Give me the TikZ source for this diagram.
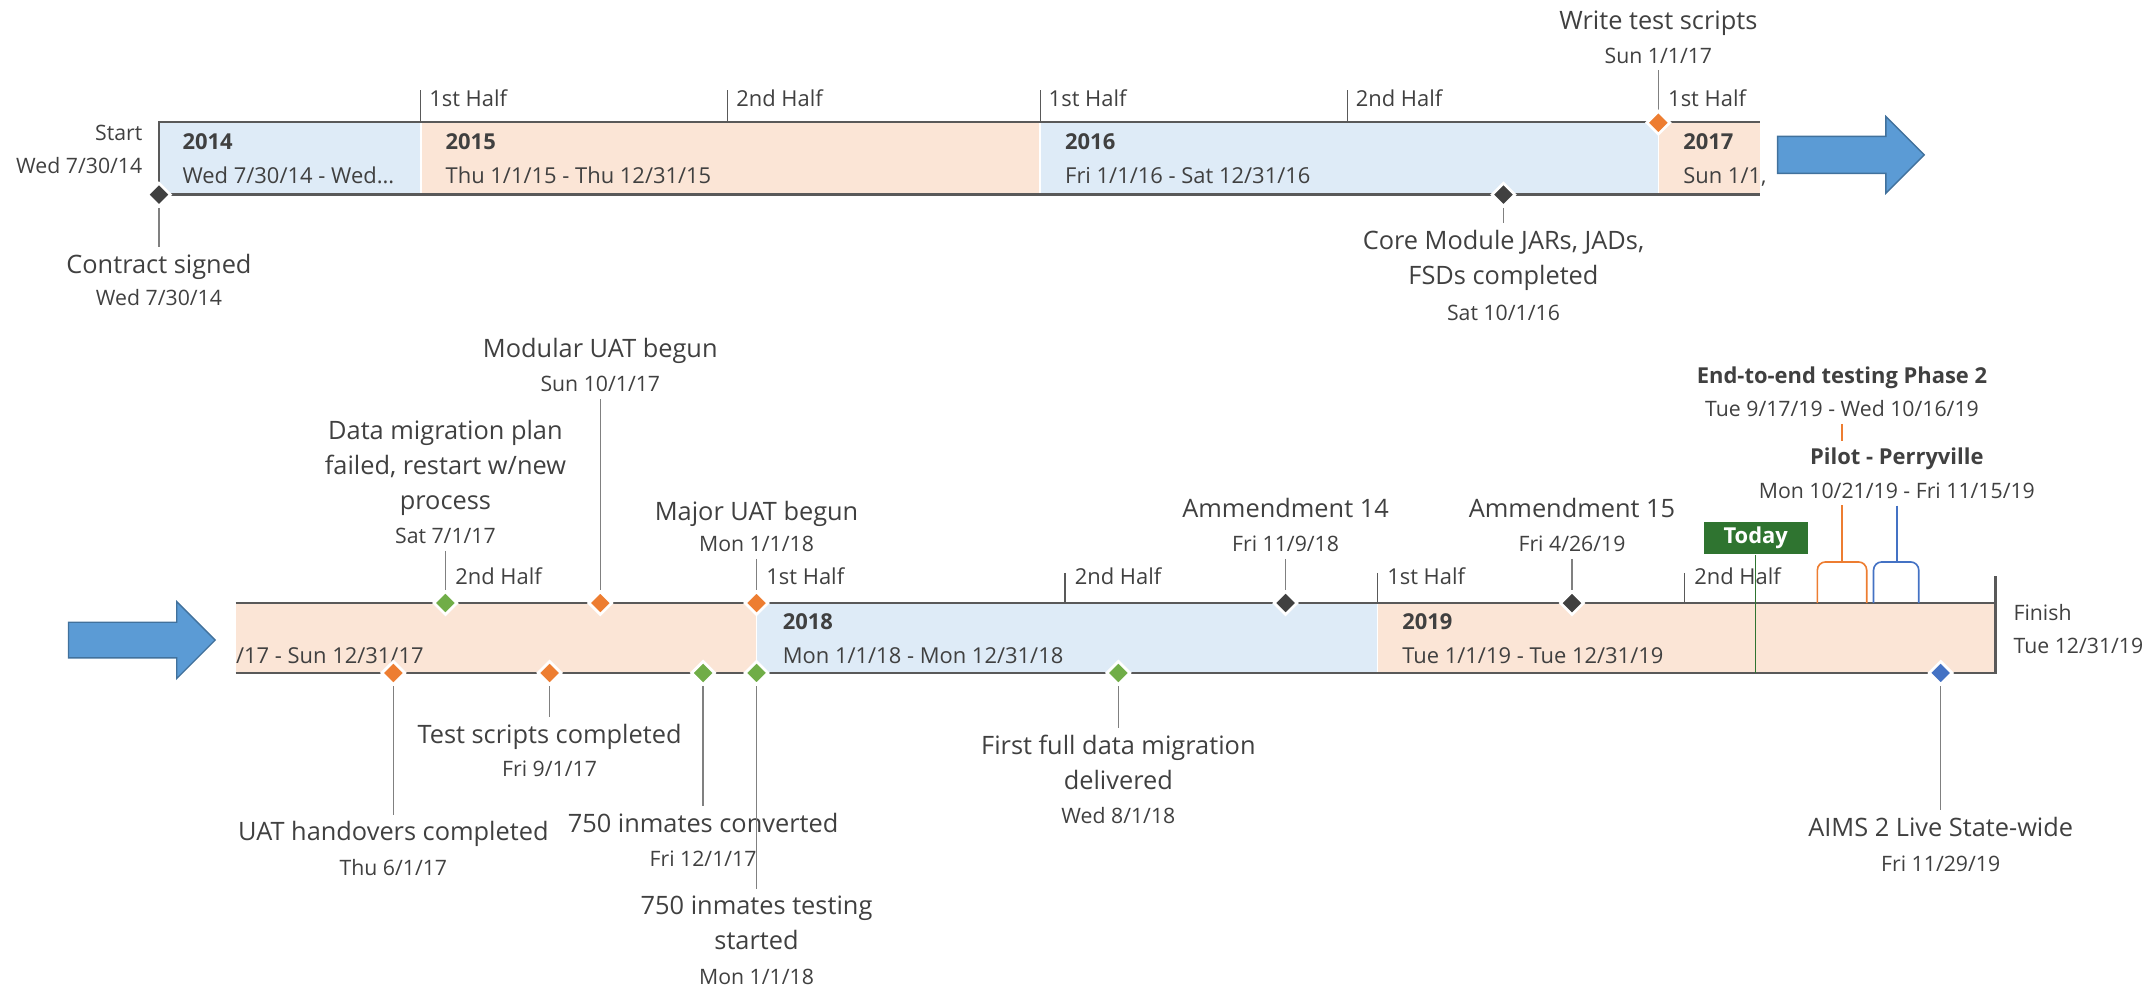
\documentclass[tikz,border=0pt]{standalone}
\usepackage{fontspec}
\setmainfont{Open Sans}
\usetikzlibrary{shapes.geometric}
\definecolor{txtgray}{HTML}{404040}
\definecolor{bluecell}{HTML}{DEEBF7}
\definecolor{peachcell}{HTML}{FBE5D6}
\definecolor{bargray}{HTML}{595959}
\definecolor{leadgray}{HTML}{808080}
\definecolor{msorange}{HTML}{ED7D31}
\definecolor{msgreen}{HTML}{70AD47}
\definecolor{msdark}{HTML}{404040}
\definecolor{msblue}{HTML}{4472C4}
\definecolor{todaygreen}{HTML}{2F7430}
\definecolor{arrowfill}{HTML}{5B9BD5}
\definecolor{arrowline}{HTML}{41719C}
\newcommand\tlTitle{\fontsize{18.5}{25.5}\selectfont}
\newcommand\tlDate{\fontsize{15.5}{20}\selectfont}
\newcommand\tlHalf{\fontsize{16}{20}\selectfont}
\newcommand\tlYear{\fontsize{16}{20}\selectfont\bfseries}
\begin{document}
\begin{tikzpicture}[x=1pt,y=-1pt,
  ttl/.style={text=txtgray,font=\tlTitle,inner xsep=1pt,inner ysep=5pt,align=center},
  dte/.style={text=txtgray,font=\tlDate,inner xsep=1pt,inner ysep=5pt},
  hlf/.style={text=txtgray,font=\tlHalf,inner sep=0pt,anchor=base west},
  yr/.style={text=txtgray,font=\tlYear,inner sep=0pt,anchor=base west},
  cellt/.style={text=txtgray,font=\tlHalf,inner sep=0pt,anchor=base west},
  bld/.style={text=txtgray,font=\tlYear,inner xsep=1pt,inner ysep=5pt},
  ms/.style={diamond,aspect=1,minimum size=17.5pt,inner sep=0pt,draw=white,line width=2pt},
  leader/.style={draw=leadgray,line width=0.9pt},
  bline/.style={draw=bargray,line width=1.8pt},
  tck/.style={draw=bargray,line width=1pt},
  sep/.style={draw=white,line width=1.2pt},
  bigarrow/.style={fill=arrowfill,draw=arrowline,line width=1pt}
]
\useasboundingbox (0,0) rectangle (1568,721);

% ---------- top timeline ----------
\fill[bluecell] (116,89) rectangle (307,142);
\fill[peachcell] (307,89) rectangle (759,142);
\fill[bluecell] (759,89) rectangle (1210,142);
\fill[peachcell] (1210,89) rectangle (1284,142);
\foreach \x in {307,759,1210} \draw[sep] (\x,89) -- (\x,142);
\draw[bline] (116,142) -- (116,89) -- (1284,89);
\draw[bline] (116,142) -- (1284,142);
\foreach \x in {307,531,759,983,1210} \draw[tck] (\x,66) -- (\x,89);

\node[hlf] (th1) at (313,77.7) {1st Half};
\node[hlf] (th2) at (537,77.7) {2nd Half};
\node[hlf] (th3) at (765,77.7) {1st Half};
\node[hlf] (th4) at (989,77.7) {2nd Half};
\node[hlf] (th5) at (1217,77.7) {1st Half};

\node[yr] (y14) at (133,109) {2014};
\node[cellt] (c14) at (133,134) {Wed 7/30/14 - Wed...};
\node[yr] (y15) at (325,109) {2015};
\node[cellt] (c15) at (325,134) {Thu 1/1/15 - Thu 12/31/15};
\node[yr] (y16) at (777,109) {2016};
\node[cellt] (c16) at (777,134) {Fri 1/1/16 - Sat 12/31/16};
\node[yr] (y17) at (1228,109) {2017};
\node[cellt] (c17) at (1228,134) {Sun 1/1,};

\node[dte,anchor=base east,inner sep=0pt] (start) at (104,102.5) {Start};
\node[dte,anchor=base east,inner sep=0pt] (startd) at (104,126.5) {Wed 7/30/14};

\node[ttl,anchor=base] (m1t) at (116,199.5) {Contract signed};
\node[dte,anchor=base] (m1d) at (116,223) {Wed 7/30/14};
\node[ttl,anchor=north] (m2t) at (1097,162.5) {Core Module JARs, JADs,\\FSDs completed};
\node[dte,anchor=base] (m2d) at (1097,233.5) {Sat 10/1/16};
\node[ttl,anchor=base] (m3t) at (1210,21.2) {Write test scripts};
\node[dte,anchor=base] (m3d) at (1210,46) {Sun 1/1/17};

\node[ms,fill=msdark] (m1) at (116,142) {};
\node[ms,fill=msdark] (m2) at (1097,142) {};
\node[ms,fill=msorange] (m3) at (1210,89.5) {};
\draw[leader] (m1.south) -- (m1t.north);
\draw[leader] (m2.south) -- (m2t.north);
\draw[leader] (m3d.south) -- (m3.north);

\draw[bigarrow] (1297,99.5) -- (1376,99.5) -- (1376,85) -- (1404,113) -- (1376,141) -- (1376,126.5) -- (1297,126.5) -- cycle;

% ---------- bottom timeline ----------
\draw[bigarrow] (50,454) -- (129,454) -- (129,439) -- (157,467) -- (129,495) -- (129,480) -- (50,480) -- cycle;

\fill[peachcell] (172,440) rectangle (552,491);
\fill[bluecell] (552,440) rectangle (1005,491);
\fill[peachcell] (1005,440) rectangle (1456,491);
\foreach \x in {552,1005} \draw[sep] (\x,440) -- (\x,491);
\draw[bline] (172,440) -- (1456,440);
\draw[bline] (172,491) -- (1456,491) -- (1456,420);
\foreach \x in {325,552,777,1005,1229} \draw[tck] (\x,418) -- (\x,440);

\node[hlf] (bh1) at (332,426.7) {2nd Half};
\node[hlf] (bh2) at (559,426.7) {1st Half};
\node[hlf] (bh3) at (784,426.7) {2nd Half};
\node[hlf] (bh4) at (1012,426.7) {1st Half};
\node[hlf] (bh5) at (1236,426.7) {2nd Half};

\node[cellt] (c17b) at (172,484) {/17 - Sun 12/31/17};
\node[yr] (y18) at (571,459) {2018};
\node[cellt] (c18) at (571,484) {Mon 1/1/18 - Mon 12/31/18};
\node[yr] (y19) at (1023,459) {2019};
\node[cellt] (c19) at (1023,484) {Tue 1/1/19 - Tue 12/31/19};

\node[dte,anchor=base west,inner sep=0pt] (fin) at (1469,452.5) {Finish};
\node[dte,anchor=base west,inner sep=0pt] (find) at (1469,476.5) {Tue 12/31/19};

% labels above
\node[ttl,anchor=north] (b1t) at (325,301.5) {Data migration plan\\failed, restart w/new\\process};
\node[dte,anchor=base] (b1d) at (325,396.5) {Sat 7/1/17};
\node[ttl,anchor=base] (b2t) at (438,260.6) {Modular UAT begun};
\node[dte,anchor=base] (b2d) at (438,286) {Sun 10/1/17};
\node[ttl,anchor=base] (b3t) at (552,379.6) {Major UAT begun};
\node[dte,anchor=base] (b3d) at (552,402.5) {Mon 1/1/18};
\node[ttl,anchor=base] (b4t) at (938,377.6) {Ammendment 14};
\node[dte,anchor=base] (b4d) at (938,402.5) {Fri 11/9/18};
\node[ttl,anchor=base] (b5t) at (1147,377.6) {Ammendment 15};
\node[dte,anchor=base] (b5d) at (1147,402.5) {Fri 4/26/19};

% labels below
\node[ttl,anchor=base] (b6t) at (287,613.6) {UAT handovers completed};
\node[dte,anchor=base] (b6d) at (287,638.5) {Thu 6/1/17};
\node[ttl,anchor=base] (b7t) at (401,542.6) {Test scripts completed};
\node[dte,anchor=base] (b7d) at (401,566.5) {Fri 9/1/17};
\node[ttl,anchor=base] (b8t) at (513,607.6) {750 inmates converted};
\node[dte,anchor=base] (b8d) at (513,632.5) {Fri 12/1/17};
\node[ttl,anchor=north] (b9t) at (552,648.5) {750 inmates testing\\started};
\node[dte,anchor=base] (b9d) at (552,718) {Mon 1/1/18};
\node[ttl,anchor=north] (b10t) at (816,531.5) {First full data migration\\delivered};
\node[dte,anchor=base] (b10d) at (816,601) {Wed 8/1/18};
\node[ttl,anchor=base] (b11t) at (1416,610.6) {AIMS 2 Live State-wide};
\node[dte,anchor=base] (b11d) at (1416,636) {Fri 11/29/19};

% range items
\node[bld,anchor=base] (e2e) at (1344,279.7) {End-to-end testing Phase 2};
\node[dte,anchor=base] (e2ed) at (1344,304) {Tue 9/17/19 - Wed 10/16/19};
\coordinate (obr) at (1344,410);
\coordinate (bbr) at (1384,410);
\draw[msorange,line width=1pt] (e2ed.south) -- (obr);
\node[bld,anchor=base,fill=white] (pil) at (1384,338.7) {Pilot - Perryville};
\node[dte,anchor=base,fill=white] (pild) at (1384,363.5) {Mon 10/21/19 - Fri 11/15/19};
\draw[msblue,line width=1pt] (pild.south) -- (bbr);
\draw[msorange,line width=1.2pt,rounded corners=6pt] (1326,440) -- (1326,410) -- (1362,410) -- (1362,440);
\draw[msblue,line width=1.2pt,rounded corners=6pt] (1367,440) -- (1367,410) -- (1400,410) -- (1400,440);

% today
\node[fill=todaygreen,text=white,font=\tlYear,minimum width=76pt,minimum height=24pt,inner sep=0pt] (today) at (1281,392.5) {Today};
\coordinate (todayend) at (1281,491);
\draw[todaygreen,line width=1pt] (today.south) -- (todayend);

% diamonds
\node[ms,fill=msgreen] (b1) at (325,440) {};
\node[ms,fill=msorange] (b2) at (438,440) {};
\node[ms,fill=msorange] (b3) at (552,440) {};
\node[ms,fill=msdark] (b4) at (938,440) {};
\node[ms,fill=msdark] (b5) at (1147,440) {};
\node[ms,fill=msorange] (b6) at (287,491) {};
\node[ms,fill=msorange] (b7) at (401,491) {};
\node[ms,fill=msgreen] (b8) at (513,491) {};
\node[ms,fill=msgreen] (b9) at (552,491) {};
\node[ms,fill=msgreen] (b10) at (816,491) {};
\node[ms,fill=msblue] (b11) at (1416,491) {};

% leaders
\draw[leader] (b1d.south) -- (b1.north);
\draw[leader] (b2d.south) -- (b2.north);
\draw[leader] (b3d.south) -- (b3.north);
\draw[leader] (b4d.south) -- (b4.north);
\draw[leader] (b5d.south) -- (b5.north);
\draw[leader] (b6.south) -- (b6t.north);
\draw[leader] (b7.south) -- (b7t.north);
\draw[leader] (b8.south) -- (b8t.north);
\draw[leader] (b9.south) -- (b9t.north);
\draw[leader] (b10.south) -- (b10t.north);
\draw[leader] (b11.south) -- (b11t.north);
\end{tikzpicture}
\end{document}
